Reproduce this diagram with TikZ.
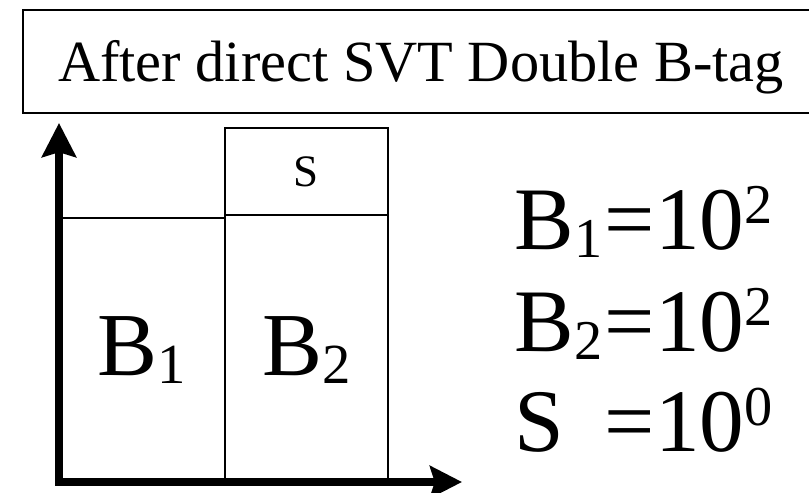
\documentclass[tikz,border=0pt]{standalone}
\usepackage{fontspec}
\setmainfont{Liberation Serif}
\usepackage{graphicx}
\usetikzlibrary{arrows.meta}

\newcommand{\subidx}[1]{\raisebox{-0.08em}{\scalebox{0.63}{#1}}}
\newcommand{\supidx}[1]{\raisebox{0.3em}{\scalebox{0.63}{#1}}}
\newcommand{\lhs}[1]{\makebox[1.01em][l]{#1}}

\begin{document}
\begin{tikzpicture}[
		frame/.style={line width=1.4pt},
		axis/.style={line width=5.7pt, {Stealth[length=0.85cm, width=0.85cm, inset=0.12cm]}-{Stealth[length=0.8cm, width=0.8cm, inset=0.12cm]}},
		big/.style={font=\fontsize{64}{70}\selectfont},
		value/.style={anchor=base west, inner sep=0, font=\fontsize{63.5}{72}\selectfont},
	]
		\useasboundingbox (0,0) rectangle (20.225,12.325);

		\draw[frame] (0.57, 9.5) rectangle (20.4, 12.075);
		\node[anchor=base, inner sep=0, font=\fontsize{41.5}{48}\selectfont] (title) at (10.525, 10.275) {After direct SVT Double B-tag};

		\draw[frame] (1.475, 0.275) rectangle (5.625, 6.875);
		\draw[frame] (5.625, 0.275) rectangle (9.7, 6.95);
		\draw[frame] (5.625, 6.95) rectangle (9.7, 9.125);

		\coordinate (ytip) at (1.475, 9.25);
		\coordinate (xtip) at (11.55, 0.275);
		\draw[axis] (ytip) |- (xtip);

		\node[big] (b1) at (3.55, 3.575) {B\subidx{1}};
		\node[big] (b2) at (7.66, 3.575) {B\subidx{2}};
		\node[font=\fontsize{32}{36}\selectfont] (s) at (7.65, 8.04) {S};

		\node[value] (b1val) at (12.86, 6.075) {\lhs{B\subidx{1}}=10\supidx{2}};
		\node[value] (b2val) at (12.86, 3.525) {\lhs{B\subidx{2}}=10\supidx{2}};
		\node[value] (sval) at (12.86, 1.025) {\lhs{S}=10\supidx{0}};

	\end{tikzpicture}
\end{document}
